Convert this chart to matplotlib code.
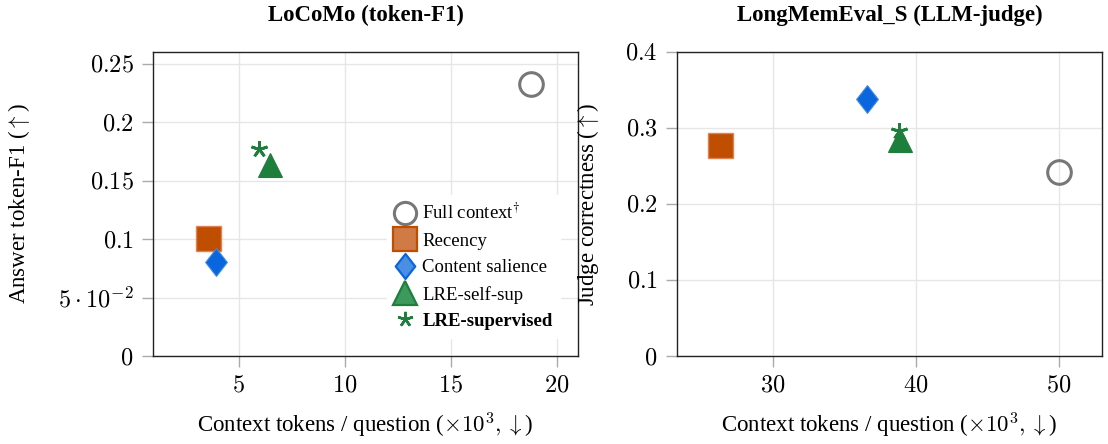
import matplotlib
matplotlib.use("Agg")
import matplotlib.pyplot as plt
from matplotlib.lines import Line2D
from matplotlib.path import Path

plt.rcParams['font.family'] = ['Liberation Serif', 'DejaVu Serif']
plt.rcParams['mathtext.fontset'] = 'cm'

methods = ['Full context$^{\\dagger}$', 'Recency', 'Content salience', 'LRE-self-sup', 'LRE-supervised']

# LoCoMo: context tokens (x10^3) and token-F1
locomo_x = [18.8, 3.58, 3.96, 6.5, 5.98]
locomo_y = [0.233, 0.101, 0.080, 0.163, 0.177]

# LongMemEval_S: context tokens (x10^3) and judge correctness
lme_x = [50.0, 26.3, 36.6, 38.9, 38.8]
lme_y = [0.242, 0.277, 0.338, 0.284, 0.296]

locomo_yticks = [0, 0.05, 0.1, 0.15, 0.2, 0.25]
locomo_yticklabels = ['$0$', r'$5\cdot10^{-2}$', '$0.1$', '$0.15$', '$0.2$', '$0.25$']
locomo_xticks = [5, 10, 15, 20]
lme_yticks = [0, 0.1, 0.2, 0.3, 0.4]
lme_xticks = [30, 40, 50]

thin_diamond = Path([(0, 1), (0.78, 0), (0, -1), (-0.78, 0), (0, 1)],
                    [Path.MOVETO, Path.LINETO, Path.LINETO, Path.LINETO, Path.CLOSEPOLY])

styles = [
    dict(marker='o', ms=17, mfc='none', mec='#777777', mew=2.2),
    dict(marker='s', ms=18, mfc='#BF4E00', mec='#E08458', mew=1.0),
    dict(marker=thin_diamond, ms=20, mfc='#0A66DD', mec='#3F88E6', mew=0.8),
    dict(marker='^', ms=17, mfc='#1D7F3B', mec='#1D7F3B', mew=0.8),
    dict(marker=(5, 2, 0), ms=12, mfc='#1D7F3B', mec='#1D7F3B', mew=2.0),
]
legend_styles = [
    dict(marker='o', ms=16, mfc='none', mec='#777777', mew=2.2),
    dict(marker='s', ms=17, mfc='#D07A45', mec='#BF4E00', mew=1.6),
    dict(marker=thin_diamond, ms=18, mfc='#4A8FE3', mec='#0A66DD', mew=1.6),
    dict(marker='^', ms=17, mfc='#3E9A5C', mec='#1D7F3B', mew=1.6),
    dict(marker=(5, 2, 0), ms=11, mfc='#1D7F3B', mec='#1D7F3B', mew=1.8),
]

fig = plt.figure(figsize=(11.08, 4.44), dpi=100)
ax1 = fig.add_axes([153 / 1108, 88 / 444, 425 / 1108, 304 / 444])
ax2 = fig.add_axes([677 / 1108, 88 / 444, 425 / 1108, 304 / 444])


def style_axes(ax):
    ax.grid(True, color='#e6e6e6', lw=1.0)
    ax.set_axisbelow(True)
    for s in ax.spines.values():
        s.set_linewidth(1.0)
        s.set_color('#222222')
    ax.tick_params(direction='out', length=8, width=1.0, color='#aaaaaa', labelsize=17.5, pad=6)


for i in range(len(methods)):
    ax1.plot([locomo_x[i]], [locomo_y[i]], ls='none', zorder=3, **styles[i])
    ax2.plot([lme_x[i]], [lme_y[i]], ls='none', zorder=3, **styles[i])

style_axes(ax1)
ax1.set_xlim(0.97, 21.0)
ax1.set_ylim(0, 0.26)
ax1.set_xticks(locomo_xticks)
ax1.set_xticklabels(['$%d$' % v for v in locomo_xticks])
ax1.set_yticks(locomo_yticks)
ax1.set_yticklabels(locomo_yticklabels)
ax1.set_title('LoCoMo (token-F1)', fontsize=16.5, fontweight='bold', pad=22)
ax1.set_xlabel(r'Context tokens / question ($\times10^3, \downarrow$)', fontsize=16.5, labelpad=10)
ax1.set_ylabel(r'Answer token-F1 ($\uparrow$)', fontsize=16.5)
ax1.yaxis.set_label_coords(-0.285, 0.5)

style_axes(ax2)
ax2.set_xlim(23.3, 53.0)
ax2.set_ylim(0, 0.4)
ax2.set_xticks(lme_xticks)
ax2.set_xticklabels(['$%d$' % v for v in lme_xticks])
ax2.set_yticks(lme_yticks)
ax2.set_yticklabels(['$0$', '$0.1$', '$0.2$', '$0.3$', '$0.4$'])
ax2.set_title('LongMemEval_S (LLM-judge)', fontsize=16.5, fontweight='bold', pad=22)
ax2.set_xlabel(r'Context tokens / question ($\times10^3, \downarrow$)', fontsize=16.5, labelpad=10)
ax2.set_ylabel(r'Judge correctness ($\uparrow$)', fontsize=16.5)
ax2.yaxis.set_label_coords(-0.178, 0.5)

handles = [Line2D([], [], ls='none', **st) for st in legend_styles]
leg = ax1.legend(handles, methods, loc='lower right', bbox_to_anchor=(0.98, 0.03),
                 fontsize=13.5, frameon=True, fancybox=False, edgecolor='white',
                 framealpha=1.0, handlelength=1.2, handletextpad=0.3,
                 labelspacing=0.5, borderpad=0.4)
leg.get_texts()[-1].set_fontweight('bold')

fig.savefig('out.png', dpi=100)
